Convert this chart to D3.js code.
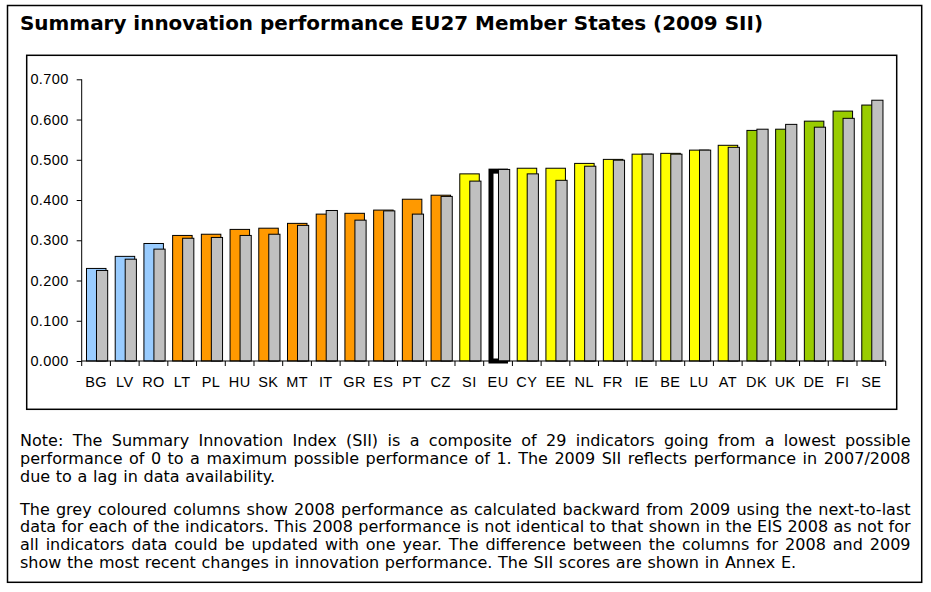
<!DOCTYPE html>
<html>
<head>
<meta charset="utf-8">
<script src="https://cdn.jsdelivr.net/npm/d3@7"></script>
<style>
  html, body { margin: 0; padding: 0; background: #fff; }
  svg { display: block; }
</style>
</head>
<body>
<svg id="chart" width="931" height="592"></svg>
<script>
// ---- data ----
const categories = ["BG","LV","RO","LT","PL","HU","SK","MT","IT","GR","ES","PT","CZ","SI","EU","CY","EE","NL","FR","IE","BE","LU","AT","DK","UK","DE","FI","SE"];
const sii2009 = [0.230,0.260,0.292,0.312,0.315,0.327,0.330,0.342,0.365,0.367,0.375,0.402,0.412,0.465,0.478,0.479,0.479,0.491,0.501,0.514,0.516,0.524,0.536,0.573,0.576,0.596,0.621,0.636];
const sii2008 = [0.225,0.253,0.278,0.305,0.307,0.312,0.315,0.337,0.374,0.350,0.373,0.365,0.409,0.447,0.476,0.465,0.449,0.484,0.499,0.514,0.514,0.524,0.531,0.576,0.588,0.581,0.603,0.648];
const groups = ["modest","modest","modest",
  "moderate","moderate","moderate","moderate","moderate","moderate","moderate","moderate","moderate","moderate",
  "follower","eu","follower","follower","follower","follower","follower","follower","follower","follower",
  "leader","leader","leader","leader","leader"];
const yTicks = [0,0.1,0.2,0.3,0.4,0.5,0.6,0.7];
const titleText = "Summary innovation performance EU27 Member States (2009 SII)";
const note1 = [
  "Note: The Summary Innovation Index (SII) is a composite of 29 indicators going from a lowest possible",
  "performance of 0 to a maximum possible performance of 1. The 2009 SII reflects performance in 2007/2008",
  "due to a lag in data availability."
];
const note2 = [
  "The grey coloured columns show 2008 performance as calculated backward from 2009 using the next-to-last",
  "data for each of the indicators. This 2008 performance is not identical to that shown in the EIS 2008 as not for",
  "all indicators data could be updated with one year. The difference between the columns for 2008 and 2009",
  "show the most recent changes in innovation performance. The SII scores are shown in Annex E."
];

const groupColor = {modest:"#99CCFF", moderate:"#FF9900", follower:"#FFFF00", leader:"#99CC00", eu:"#FFFFFF"};
const greyColor = "#C0C0C0";

const svg = d3.select("#chart");

// frames
svg.append("rect").attr("x",7.5).attr("y",5.5).attr("width",914.2).attr("height",576.8)
  .attr("fill","none").attr("stroke","#000").attr("stroke-width",1.5);
svg.append("rect").attr("x",26.7).attr("y",55.3).attr("width",870).attr("height",354)
  .attr("fill","none").attr("stroke","#000").attr("stroke-width",1.5);

// title
svg.append("text").attr("x",20).attr("y",30)
  .attr("font-family","'DejaVu Sans', Verdana, sans-serif").attr("font-weight","bold")
  .attr("font-size",19).attr("fill","#000")
  .attr("textLength",743).attr("lengthAdjust","spacingAndGlyphs")
  .text(titleText);

// scales
const x = d3.scaleBand().domain(categories).range([81.7, 885.7]).padding(0);
const y = d3.scaleLinear().domain([0, 0.7]).range([361, 79.3]);
const bw = x.bandwidth();

const data = categories.map((c,i)=>({c, v09:sii2009[i], v08:sii2008[i], g:groups[i]}));

// primary (2009) bars
const g = svg.append("g");
data.forEach(d=>{
  const x0 = x(d.c) + bw*0.167, w = bw*0.679;
  if (d.g === "eu") {
    const sw = 5;
    g.append("rect").attr("x", x0 + sw/2).attr("y", y(d.v09) + sw/2)
      .attr("width", w - sw).attr("height", y(0) - y(d.v09) - sw/2)
      .attr("fill","#fff").attr("stroke","#000").attr("stroke-width",sw);
  } else {
    g.append("rect").attr("x", x0).attr("y", y(d.v09))
      .attr("width", w).attr("height", y(0) - y(d.v09))
      .attr("fill", groupColor[d.g]).attr("stroke","#000").attr("stroke-width",1);
  }
});
// grey (2008) bars on top
data.forEach(d=>{
  const x0 = x(d.c) + bw*0.515, w = bw*0.39;
  g.append("rect").attr("x", x0).attr("y", y(d.v08))
    .attr("width", w).attr("height", y(0) - y(d.v08))
    .attr("fill", greyColor).attr("stroke","#000").attr("stroke-width",1);
});

// y axis
const yAxis = svg.append("g").attr("transform","translate(81.7,0)")
  .call(d3.axisLeft(y).tickValues(yTicks).tickFormat(d3.format(".3f")).tickSize(5).tickPadding(8));
yAxis.selectAll("text").attr("font-family","'Liberation Sans', Arial, sans-serif").attr("font-size",14.5)
  .attr("letter-spacing",0.4).attr("fill","#000");
yAxis.selectAll("line,path").attr("stroke","#000");
yAxis.select(".domain").attr("d","M0,79.3V361");

// x axis
const xAxis = svg.append("g").attr("transform","translate(0,361)")
  .call(d3.axisBottom(x).tickSize(0).tickPadding(0));
xAxis.select(".domain").attr("stroke","#000").attr("d","M81.7,0H885.7");
xAxis.selectAll("text").attr("y",25.8).attr("dy",0)
  .attr("font-family","'Liberation Sans', Arial, sans-serif").attr("font-size",14.5)
  .attr("letter-spacing",0.4).attr("fill","#000");
const bounds = categories.map(c=>x(c)).concat([x(categories[categories.length-1]) + bw]);
xAxis.selectAll("line.bound").data(bounds).enter().append("line").attr("class","bound")
  .attr("x1",d=>d).attr("x2",d=>d).attr("y1",0).attr("y2",5).attr("stroke","#000");

// notes, justified: one text per word
function drawLines(lines, baselines) {
  const fs = 16, left = 20, right = 910.5, W = right - left;
  const probe = svg.append("text").attr("font-family","'DejaVu Sans', Verdana, sans-serif")
    .attr("font-size",fs).text("a a");
  const probe2 = svg.append("text").attr("font-family","'DejaVu Sans', Verdana, sans-serif")
    .attr("font-size",fs).text("aa");
  const spaceW = probe.node().getComputedTextLength() - probe2.node().getComputedTextLength();
  probe.remove(); probe2.remove();
  lines.forEach((line, li)=>{
    const words = line.split(" ");
    const gLine = svg.append("g");
    const nodes = words.map(wd => gLine.append("text")
      .attr("font-family","'DejaVu Sans', Verdana, sans-serif").attr("font-size",fs)
      .attr("fill","#000").attr("y",baselines[li]).text(wd));
    const widths = nodes.map(n=>n.node().getComputedTextLength());
    const sum = d3.sum(widths);
    const isLast = li === lines.length-1;
    let gap = spaceW + 0.6, scale = 1;
    if (!isLast) {
      gap = (W - sum) / (words.length - 1);
      const minGap = spaceW * 0.85;
      if (gap < minGap) { gap = minGap; scale = (W - gap*(words.length-1)) / sum; }
    }
    let cx = left;
    nodes.forEach((n,i)=>{
      n.attr("x", cx);
      if (scale !== 1) n.attr("textLength", widths[i]*scale).attr("lengthAdjust","spacingAndGlyphs");
      cx += widths[i]*scale + gap;
    });
  });
}
drawLines(note1, [445.5, 463.5, 481.5]);
drawLines(note2, [514.5, 532.2, 549.9, 567.6]);
</script>
</body>
</html>
